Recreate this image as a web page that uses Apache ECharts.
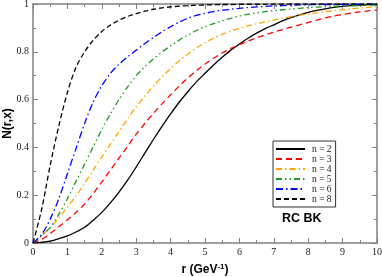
<!DOCTYPE html>
<html><head><meta charset="utf-8">
<script src="https://cdn.jsdelivr.net/npm/echarts@6/dist/echarts.min.js"></script>
<style>html,body{margin:0;padding:0;background:#fff}#c{width:382px;height:277px}</style>
</head><body><div id="c"></div>
<script>
const rVals = [0,0.25,0.5,0.75,1,1.25,1.5,1.75,2,2.25,2.5,2.75,3,3.25,3.5,3.75,4,4.25,4.5,4.75,5,5.25,5.5,5.75,6,6.25,6.5,6.75,7,7.25,7.5,7.75,8,8.25,8.5,8.75,9,9.25,9.5,9.75,10];
const n2 = [0,0.003,0.008,0.018,0.03,0.046,0.066,0.095,0.128,0.168,0.213,0.263,0.318,0.376,0.433,0.488,0.54,0.589,0.633,0.674,0.71,0.745,0.777,0.807,0.833,0.857,0.878,0.897,0.913,0.929,0.943,0.955,0.965,0.973,0.98,0.986,0.99,0.993,0.995,0.997,0.998];
const n3 = [0,0.015,0.04,0.068,0.097,0.128,0.163,0.207,0.255,0.305,0.355,0.405,0.455,0.5,0.542,0.582,0.62,0.657,0.69,0.721,0.748,0.773,0.795,0.814,0.83,0.845,0.858,0.871,0.882,0.893,0.903,0.913,0.923,0.933,0.942,0.95,0.956,0.962,0.967,0.971,0.975];
const n4 = [0,0.03,0.065,0.105,0.15,0.197,0.25,0.305,0.36,0.414,0.467,0.52,0.57,0.615,0.656,0.695,0.73,0.762,0.79,0.816,0.838,0.857,0.873,0.887,0.898,0.908,0.917,0.925,0.933,0.94,0.947,0.953,0.958,0.963,0.968,0.972,0.976,0.98,0.983,0.986,0.989];
const n5 = [0,0.03,0.065,0.12,0.185,0.258,0.33,0.403,0.475,0.54,0.60,0.653,0.70,0.738,0.77,0.799,0.825,0.849,0.87,0.889,0.905,0.918,0.93,0.94,0.95,0.957,0.963,0.968,0.972,0.976,0.979,0.982,0.985,0.987,0.989,0.991,0.992,0.993,0.994,0.995,0.996];
const n6 = [0,0.035,0.10,0.185,0.29,0.395,0.50,0.59,0.658,0.71,0.748,0.779,0.807,0.835,0.86,0.884,0.905,0.924,0.94,0.952,0.961,0.968,0.974,0.978,0.982,0.985,0.988,0.99,0.992,0.993,0.995,0.996,0.997,0.997,0.998,0.998,0.999,0.999,0.999,1.0,1.0];
const n8 = [0,0.14,0.325,0.49,0.63,0.735,0.80,0.848,0.885,0.912,0.932,0.948,0.96,0.97,0.978,0.984,0.988,0.991,0.993,0.995,0.996,0.997,0.998,0.998,0.999,0.999,0.999,0.999,1.0,1.0,1.0,1.0,1.0,1.0,1.0,1.0,1.0,1.0,1.0,1.0,1.0];
const seriesNames = ['n = 2','n = 3','n = 4','n = 5','n = 6','n = 8'];
const xTicks = ['0','1','2','3','4','5','6','7','8','9','10'];
const yTicks = ['0','0.2','0.4','0.6','0.8','1'];

const styles = [
  {color:'#000000', type:'solid'},
  {color:'#ff0000', type:[6,4]},
  {color:'#ffa500', type:[6,3,1.5,3]},
  {color:'#1f9e1f', type:[6,3,1.5,3,1.5,3]},
  {color:'#0000ff', type:[7,3,1.5,3]},
  {color:'#000000', type:[5,3]}
];
const allData = [n2,n3,n4,n5,n6,n8];
const serif = 'Liberation Serif';
const frame = '#808080';

const chart = echarts.init(document.getElementById('c'), null, {renderer:'canvas'});
const axisCommon = {
  axisLine:{show:true, onZero:false, lineStyle:{color:frame, width:1.5}},
  axisTick:{show:true, inside:true, length:5, lineStyle:{color:frame, width:1}},
  minorTick:{show:true, splitNumber:2, length:3, lineStyle:{color:frame, width:1}},
  splitLine:{show:false}
};
chart.setOption({
  animation:false,
  backgroundColor:'#fff',
  grid:{left:33, right:5, top:4, bottom:34, outerBoundsMode:'none', containLabel:false},
  xAxis:[
    Object.assign({type:'value', min:0, max:10, interval:1, position:'bottom',
      axisLabel:{fontFamily:serif, fontSize:10, color:'#222', margin:4, formatter:(v)=>xTicks[Math.round(v)]},
      name:'{b|r (GeV}{s|-1}{b|)}', nameLocation:'middle', nameGap:20, nameMoveOverlap:false,
      nameTextStyle:{rich:{b:{fontFamily:'Liberation Sans', fontWeight:'bold', fontSize:12, color:'#000'},
                            s:{fontFamily:'Liberation Sans', fontWeight:'bold', fontSize:8, color:'#000', verticalAlign:'top', padding:[0,0,6,0]}}}
    }, axisCommon),
    Object.assign({type:'value', min:0, max:10, interval:1, position:'top', axisLabel:{show:false}}, axisCommon)
  ],
  yAxis:[
    Object.assign({type:'value', min:0, max:1, interval:0.2, position:'left',
      axisLabel:{fontFamily:serif, fontSize:10, color:'#222', margin:4, formatter:(v)=>yTicks[Math.round(v*5)]},
      name:'N(r,x)', nameLocation:'middle', nameGap:19, nameRotate:90, nameMoveOverlap:false,
      nameTextStyle:{fontFamily:'Liberation Sans', fontWeight:'bold', fontSize:12, color:'#000'}
    }, axisCommon),
    Object.assign({type:'value', min:0, max:1, interval:0.2, position:'right', axisLabel:{show:false}}, axisCommon)
  ],
  legend:{
    orient:'vertical', left:273, top:141, padding:[3,4,3,2], itemGap:0,
    itemWidth:29, itemHeight:10, borderColor:'#333', borderWidth:1, backgroundColor:'#fff',
    itemStyle:{opacity:0},
    textStyle:{fontFamily:serif, fontSize:9.5, color:'#222', padding:[0,0,0,2]},
    data:seriesNames
  },
  graphic:[{type:'text', left:282, top:212, style:{text:'RC BK', fontFamily:'Liberation Sans', fontWeight:'bold', fontSize:12.5, fill:'#000'}}],
  series: allData.map((d,i)=>({
    name:seriesNames[i], type:'line', symbol:'none', smooth:0.3,
    xAxisIndex:0, yAxisIndex:0,
    lineStyle:{color:styles[i].color, type:styles[i].type, width:1.3},
    itemStyle:{color:styles[i].color},
    data: rVals.map((r,j)=>[r, d[j]])
  }))
});
</script></body></html>
